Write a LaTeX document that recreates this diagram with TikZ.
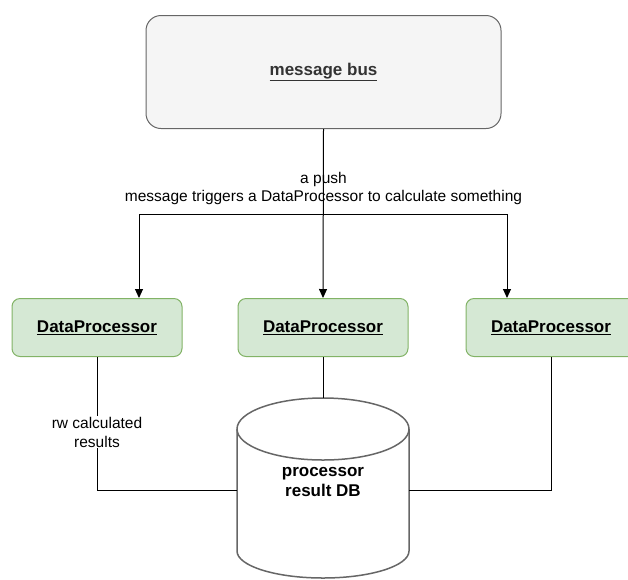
\documentclass[tikz,border=0pt]{standalone}
\usepackage{fontspec}
\setmainfont{Liberation Sans}
\usetikzlibrary{arrows.meta}
\definecolor{busfill}{HTML}{F5F5F5}
\definecolor{busline}{HTML}{666666}
\definecolor{bustext}{HTML}{333333}
\definecolor{dpfill}{HTML}{D5E8D4}
\definecolor{dpline}{HTML}{82B366}
\tikzset{
  busbox/.style={draw=busline, fill=busfill, line width=1pt, rounded corners=15pt,
    minimum width=355pt, minimum height=113pt, inner sep=0pt,
    font=\fontsize{17}{20}\selectfont\bfseries, text=bustext},
  procbox/.style={draw=dpline, fill=dpfill, line width=1pt, rounded corners=8pt,
    minimum width=170pt, minimum height=58pt, inner sep=0pt,
    font=\fontsize{17}{20}\selectfont\bfseries},
  link/.style={draw=black, line width=1pt},
  pusharrow/.style={link, -{Triangle[width=8pt,length=9pt]}},
  edgelabel/.style={font=\fontsize{15.5}{18}\selectfont, align=center, inner sep=1pt},
  dbshape/.style={draw=busline, fill=white, line width=1.5pt},
}
\begin{document}
\begin{tikzpicture}[x=1pt, y=-1pt]
  \useasboundingbox (0,0) rectangle (628,579);
  \clip (0,0) rectangle (628,579);

  % message bus
  \node[busbox] (bus) at (323.5,72) {\underline{message bus}};

  % processors
  \node[procbox] (dpA) at (97,327.5) {\underline{DataProcessor}};
  \node[procbox] (dpB) at (323,327.5) {\underline{DataProcessor}};
  \node[procbox] (dpC) at (551,327.5) {\underline{DataProcessor}};

  % result database (cylinder), with an invisible node marking its extent
  \node[minimum width=172pt, minimum height=182pt, inner sep=0pt] (db) at (323,489) {};
  \path[dbshape] (237,429) -- (237,551) arc[start angle=180, end angle=0, x radius=86, y radius=27]
    -- (409,429) arc[start angle=0, end angle=-180, x radius=86, y radius=31] -- cycle;
  \draw[dbshape, fill=none] (237,429) arc[start angle=180, end angle=0, x radius=86, y radius=31];
  \node[font=\fontsize{17}{20}\selectfont\bfseries, align=center] (dblabel) at (323,482)
    {processor\\result DB};

  % push connectors: the side branches land right of / left of the box centres
  \coordinate (fork) at (323.5,214);
  \coordinate (inA) at (139,214);
  \coordinate (inC) at (507,214);
  \draw[pusharrow] (bus.south) -- (dpB.north);
  \draw[pusharrow] (bus.south) -- (fork) -- (inA) -- (inA |- dpA.north);
  \draw[pusharrow] (bus.south) -- (fork) -- (inC) -- (inC |- dpC.north);
  \node[edgelabel] (pushlabel) at (323.5,188)
    {a push\\message triggers a DataProcessor to calculate something};

  % read/write connectors
  \coordinate (dbW) at (237,490);
  \coordinate (dbE) at (409,490);
  \coordinate (dbN) at (323,398);
  \draw[link] (dpA.south) |- (dbW);
  \draw[link] (dpB.south) -- (dbN);
  \draw[link] (dpC.south) |- (dbE);
  \node[edgelabel, fill=white, font=\fontsize{15.5}{19}\selectfont] (rwlabel) at (97,432)
    {rw calculated\\results};
\end{tikzpicture}
\end{document}
